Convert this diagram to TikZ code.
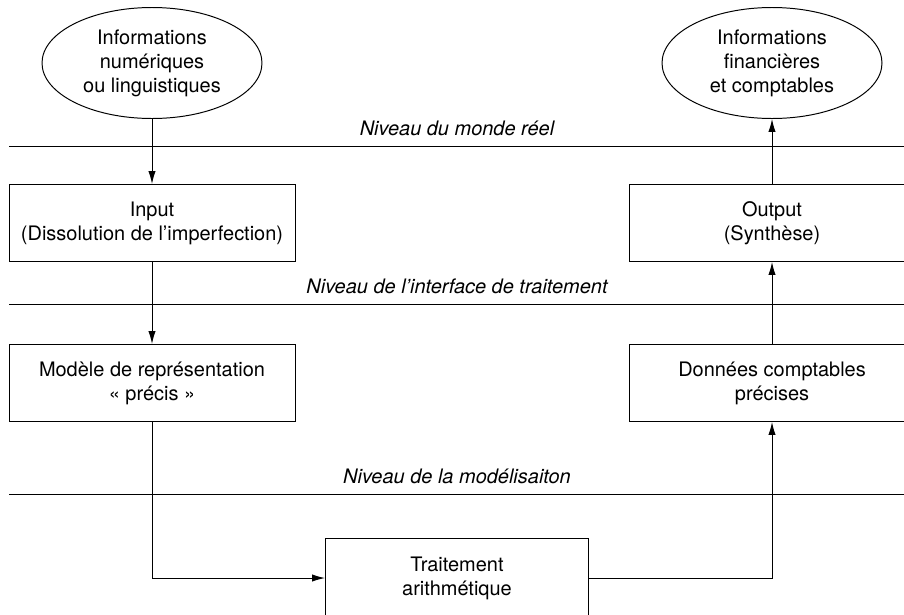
\documentclass[tikz,border=0pt]{standalone}
\usepackage{fontspec}
\setmainfont{TeX Gyre Heros}
\usetikzlibrary{shapes.geometric, arrows.meta, positioning}
\tikzstyle{info} = [ellipse, draw=black, line width=0.7pt, minimum width=5.5cm, minimum height=2.775cm, inner sep=0pt, align=center]
\tikzstyle{bloc} = [rectangle, draw=black, line width=0.7pt, minimum width=7.15cm, minimum height=1.925cm, align=center]
\tikzstyle{arrow} = [line width=0.7pt,-{Latex[length=3.2mm,width=1.8mm]},draw=black]
\tikzstyle{niveau} = [line width=0.7pt,draw=black]
\tikzstyle{etiquette} = [anchor=base, font=\itshape]

\begin{document}
\fontsize{14.2}{17}\selectfont
\begin{tikzpicture}[node distance=4cm, text centered]
        \clip (0,0) rectangle (22.6,-15.35);

        \node (A) [info] at (3.8,-1.575) {Informations\\numériques\\ou linguistiques};
        \node (B) [bloc] [below of=A] {Input\\(Dissolution de l’imperfection)};
        \node (C) [bloc] [below of=B] {Modèle de représentation\\« précis »};
        \node (D) [bloc, minimum width=6.575cm, minimum height=2cm] at (11.425,-14.45) {Traitement\\arithmétique};
        \node (G) [info] [right of=A, node distance=15.5cm] {Informations\\financières\\et comptables};
        \node (F) [bloc] [below of=G] {Output\\(Synthèse)};
        \node (E) [bloc] [below of=F] {Données comptables\\précises};

        % niveaux
        \coordinate (n1) at (0.225,-3.65);
        \coordinate (n2) at (0.225,-7.6);
        \coordinate (n3) at (0.225,-12.35);
        \draw [niveau] (n1) -- ++(23,0);
        \draw [niveau] (n2) -- ++(23,0);
        \draw [niveau] (n3) -- ++(23,0);
        \node (t1) [etiquette] at (11.425,-3.375) {Niveau du monde réel};
        \node (t2) [etiquette] at (11.425,-7.325) {Niveau de l’interface de traitement};
        \node (t3) [etiquette] at (11.425,-12.075) {Niveau de la modélisaiton};

        \draw [arrow] (A) -- (B);
        \draw [arrow] (B) -- (C);
        \draw [arrow] (C) |- (D);
        \draw [arrow] (D) -| (E);
        \draw [arrow] (E) -- (F);
        \draw [arrow] (F) -- (G);
\end{tikzpicture}
\end{document}
